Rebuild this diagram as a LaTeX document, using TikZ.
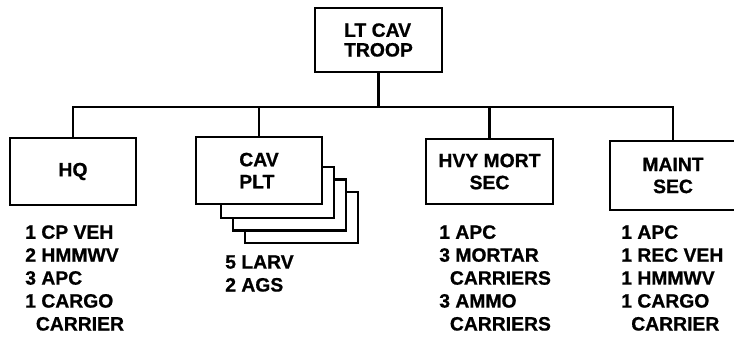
\documentclass[tikz,border=0pt]{standalone}
\usepackage{fontspec}
\setmainfont[BoldFeatures={FakeBold=0.8}]{Liberation Sans}
\usetikzlibrary{positioning}
\tikzset{
	unitbox/.style ={rectangle, draw=black, line width=2.2pt, fill=white, minimum width=94.5pt, minimum height=50.25pt, align=center, inner sep=2pt},
	stackbox/.style={rectangle, draw=black, line width=2.2pt, fill=white, minimum width=84.75pt, minimum height=38.25pt},
	% equipment lists under the boxes
	equiplist/.style={anchor=north west, align=left, inner sep=0pt, font=\bfseries\fontsize{14.5}{17.2}\selectfont},
	orgline/.style ={line width=1.8pt},
}

\begin{document}
\begin{tikzpicture}[x=0.75pt, y=-0.75pt, every node/.style={font=\bfseries\fontsize{14.5}{16.5}\selectfont}]
	\useasboundingbox (0,0) rectangle (734,337);
	\node[unitbox, minimum width=95.25pt, minimum height=48pt, align=left, font=\bfseries\fontsize{14.5}{14.8}\selectfont] (troop) at (378.5,40) {LT CAV\\TROOP};
	\coordinate (bus) at (378,107);
	\node[unitbox] (hq) at (73,171.5) {HQ};
	\foreach \i in {3,2,1}
		\node[stackbox] (plt\i) at ({265.5+12*\i},{180+12.5*\i}) {};
	\node[unitbox, align=left] (plt) at (259,170.5) {CAV\\PLT};
	\node[unitbox, minimum width=95.25pt, minimum height=48.75pt] (mort) at (489.5,171.5) {HVY MORT\\SEC};
	\node[unitbox, minimum height=51.75pt] (maint) at (673,175.5) {MAINT\\SEC};
	\draw[orgline] (troop.south) -- (troop |- bus);
	\draw[orgline] (hq.north) |- (bus) -| (maint.north);
	\draw[orgline] (plt.north) -- (plt |- bus);
	\draw[orgline] (mort.north) -- (mort |- bus);
	\node[equiplist] (hqlist) at (25,225) {1 CP VEH\\2 HMMWV\\3 APC\\1 CARGO\\\hspace*{8pt}CARRIER};
	\node[equiplist] (pltlist) at (225,255) {5 LARV\\2 AGS};
	\node[equiplist] (mortlist) at (439,225) {1 APC\\3 MORTAR\\\hspace*{8pt}CARRIERS\\3 AMMO\\\hspace*{8pt}CARRIERS};
	\node[equiplist] (maintlist) at (621,225) {1 APC\\1 REC VEH\\1 HMMWV\\1 CARGO\\\hspace*{7.5pt}CARRIER};
\end{tikzpicture}
\end{document}
